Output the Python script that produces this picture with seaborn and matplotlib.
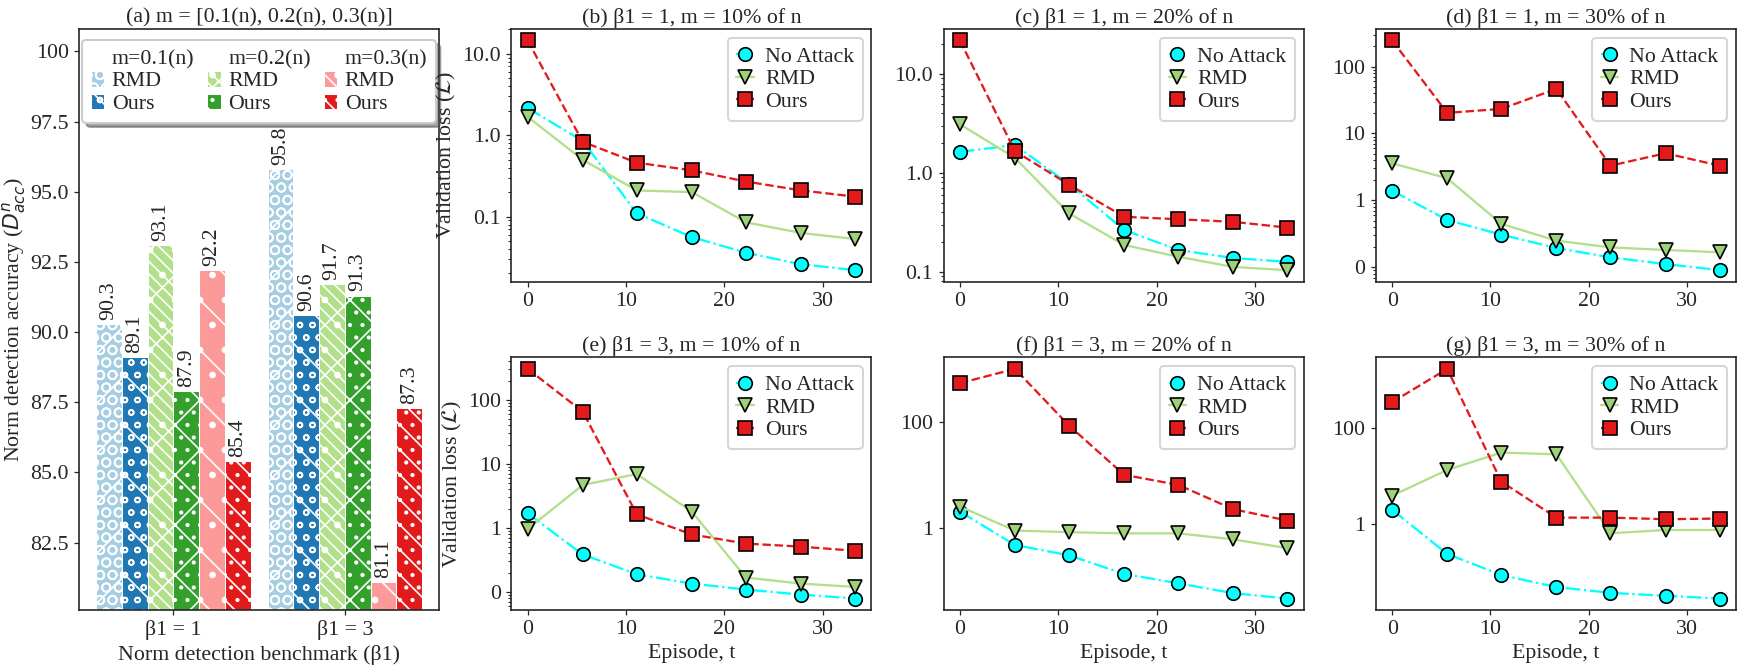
import numpy as np
import pandas as pd
import matplotlib
matplotlib.use('Agg')
import matplotlib.pyplot as plt
from matplotlib.patches import Rectangle
from matplotlib.ticker import FixedLocator, NullLocator, NullFormatter, FuncFormatter
import seaborn as sns

# ---- panel (a): bar chart data ----
benchmarks = ['β1 = 1', 'β1 = 3']
bar_series = ['RMD 0.1', 'Ours 0.1', 'RMD 0.2', 'Ours 0.2', 'RMD 0.3', 'Ours 0.3']
acc_beta1 = [90.3, 89.1, 93.1, 87.9, 92.2, 85.4]
acc_beta3 = [95.8, 90.6, 91.7, 91.3, 81.1, 87.3]
bar_colors = ['#a6cee3', '#1f78b4', '#b2df8a', '#33a02c', '#fb9a99', '#e31a1c']
bar_hatches = ['/OO', '\\oo', 'x\\\\\\.', 'x..', '\\.', '\\\\..']
m_headers = ['m=0.1(n)', 'm=0.2(n)', 'm=0.3(n)']

# ---- panels (b)-(g): validation loss ----
episodes = [0, 5.6, 11.1, 16.7, 22.2, 27.8, 33.3]

noatk_b = [2.16, 0.85, 0.11, 0.056, 0.036, 0.026, 0.022]
rmd_b = [1.68, 0.50, 0.21, 0.20, 0.085, 0.063, 0.053]
ours_b = [14.6, 0.83, 0.46, 0.37, 0.27, 0.21, 0.176]

noatk_c = [1.63, 1.91, 0.77, 0.265, 0.166, 0.138, 0.126]
rmd_c = [3.1, 1.42, 0.39, 0.187, 0.142, 0.112, 0.104]
ours_c = [21.8, 1.66, 0.76, 0.36, 0.34, 0.32, 0.28]

noatk_d = [1.40, 0.51, 0.308, 0.195, 0.141, 0.112, 0.091]
rmd_d = [3.59, 2.14, 0.446, 0.251, 0.199, 0.182, 0.168]
ours_d = [245, 20.3, 23.3, 46.4, 3.31, 5.06, 3.31]

noatk_e = [1.69, 0.385, 0.189, 0.135, 0.109, 0.091, 0.079]
rmd_e = [0.96, 4.68, 6.95, 1.79, 0.168, 0.135, 0.12]
ours_e = [305, 65.6, 1.63, 0.79, 0.57, 0.51, 0.44]

noatk_f = [2.0, 0.47, 0.30, 0.134, 0.089, 0.058, 0.046]
rmd_f = [2.49, 0.88, 0.82, 0.78, 0.78, 0.60, 0.41]
ours_f = [530, 986, 84, 9.9, 6.4, 2.22, 1.36]

noatk_g = [1.98, 0.243, 0.089, 0.050, 0.038, 0.033, 0.029]
rmd_g = [3.9, 13.3, 30.4, 28.0, 0.65, 0.76, 0.76]
ours_g = [336, 1641, 7.6, 1.37, 1.37, 1.27, 1.31]

panel_titles = ['(b) β1 = 1, m = 10% of n', '(c) β1 = 1, m = 20% of n', '(d) β1 = 1, m = 30% of n',
                '(e) β1 = 3, m = 10% of n', '(f) β1 = 3, m = 20% of n', '(g) β1 = 3, m = 30% of n']
panel_data = [(noatk_b, rmd_b, ours_b), (noatk_c, rmd_c, ours_c), (noatk_d, rmd_d, ours_d),
              (noatk_e, rmd_e, ours_e), (noatk_f, rmd_f, ours_f), (noatk_g, rmd_g, ours_g)]
panel_yticks = [[0.1, 1, 10], [0.1, 1, 10], [0.1, 1, 10, 100],
                [0.1, 1, 10, 100], [1, 100], [1, 100]]
panel_fmt = ['%.1f', '%.1f', '%.0f', '%.0f', '%.0f', '%.0f']
panel_minor = [True, True, True, True, False, False]

sns.set_theme(style='ticks')
plt.rcParams['font.family'] = ['Liberation Serif', 'DejaVu Serif']
plt.rcParams.update({
    'font.size': 10.5, 'axes.titlesize': 10.5, 'axes.labelsize': 10.5,
    'xtick.labelsize': 10.5, 'ytick.labelsize': 10.5, 'legend.fontsize': 10.5,
    'axes.titlepad': 3, 'axes.linewidth': 0.8, 'axes.labelpad': 2,
    'xtick.major.size': 2.5, 'ytick.major.size': 2.5,
    'xtick.minor.size': 1.5, 'ytick.minor.size': 1.5,
    'xtick.major.width': 0.6, 'ytick.major.width': 0.6, 'ytick.minor.width': 0.5,
    'xtick.major.pad': 2.5, 'ytick.major.pad': 2.5,
    'hatch.linewidth': 0.8,
})

fig = plt.figure(figsize=(1744 / 150, 670 / 150), dpi=150)
gs = fig.add_gridspec(2, 4, left=79 / 1744, right=1736 / 1744, bottom=60 / 670, top=641 / 670,
                      wspace=0.2, hspace=0.3)

# ---- (a) bars ----
ax_bar = fig.add_subplot(gs[:, 0])
bar_df = pd.DataFrame({
    'benchmark': np.repeat(benchmarks, len(bar_series)),
    'series': bar_series * 2,
    'acc': acc_beta1 + acc_beta3,
})
sns.barplot(data=bar_df, x='benchmark', y='acc', hue='series', hue_order=bar_series,
            palette=bar_colors, saturation=1, width=0.9, edgecolor='white', linewidth=0.5,
            errorbar=None, legend=False, ax=ax_bar)
for cont, h in zip(ax_bar.containers, bar_hatches):
    for p in cont:
        p.set_hatch(h)
    ax_bar.bar_label(cont, fmt='%.1f', rotation=90, padding=2, fontsize=10.5)
ax_bar.set_xlim(-0.55, 1.55)
ax_bar.set_ylim(80.1, 100.8)
ax_bar.yaxis.set_major_locator(FixedLocator([82.5, 85, 87.5, 90, 92.5, 95, 97.5, 100]))
ax_bar.yaxis.set_major_formatter(FuncFormatter(lambda v, _: '100' if v >= 100 else f'{v:.1f}'))
ax_bar.set_title('(a) m = [0.1(n), 0.2(n), 0.3(n)]')
ax_bar.set_xlabel('Norm detection benchmark (β1)')
ax_bar.set_ylabel('Norm detection accuracy ($D^{n}_{acc}$)', labelpad=1)
for s in ax_bar.spines.values():
    s.set_visible(True)

handles, labels = [], []
for k, head in enumerate(m_headers):
    handles.append(Rectangle((0, 0), 1, 1, facecolor='none', edgecolor='none'))
    labels.append(head)
    for j, name in enumerate(['RMD', 'Ours']):
        idx = 2 * k + j
        handles.append(Rectangle((0, 0), 1, 1, facecolor=bar_colors[idx], edgecolor='white',
                                 linewidth=0.5, hatch=bar_hatches[idx]))
        labels.append(name)
ax_bar.legend(handles, labels, ncol=3, loc='upper center', shadow=True, fancybox=True,
              framealpha=1, fontsize=10.5, handlelength=0.6, handleheight=0.7, handletextpad=0.35,
              columnspacing=0.6, labelspacing=0.1, borderaxespad=0.5)

# ---- (b)-(g) loss curves ----
for i, (title, (noatk, rmd, ours)) in enumerate(zip(panel_titles, panel_data)):
    ax = fig.add_subplot(gs[i // 3, 1 + i % 3])
    sns.lineplot(x=episodes, y=noatk, ax=ax, color='cyan', linestyle='-.', linewidth=1.1,
                 marker='o', markersize=6.5, markeredgecolor='black', markeredgewidth=0.8,
                 label='No Attack')
    sns.lineplot(x=episodes, y=rmd, ax=ax, color='#b2df8a', linestyle='-', linewidth=1.1,
                 marker='v', markersize=7, markerfacecolor='#9fd07a', markeredgecolor='black',
                 markeredgewidth=0.8, label='RMD')
    sns.lineplot(x=episodes, y=ours, ax=ax, color='#e31a1c', linestyle='--', linewidth=1.1,
                 marker='s', markersize=6.5, markeredgecolor='black', markeredgewidth=0.8,
                 label='Ours')
    ax.set_yscale('log')
    ax.yaxis.set_major_locator(FixedLocator(panel_yticks[i]))
    ax.yaxis.set_major_formatter(FuncFormatter(lambda v, _, f=panel_fmt[i]: f % v))
    if not panel_minor[i]:
        ax.yaxis.set_minor_locator(NullLocator())
    ax.yaxis.set_minor_formatter(NullFormatter())
    ax.set_xticks([0, 10, 20, 30])
    ax.set_title(title)
    if i % 3 == 0:
        ax.set_ylabel(r'Validation loss ($\mathcal{L}$)')
    if i >= 3:
        ax.set_xlabel('Episode, t')
    for s in ax.spines.values():
        s.set_visible(True)
    ax.legend(loc='upper right', handlelength=0.8, handletextpad=0.5, labelspacing=0.1,
              borderaxespad=0.4)

fig.savefig('out.png', dpi=150)
